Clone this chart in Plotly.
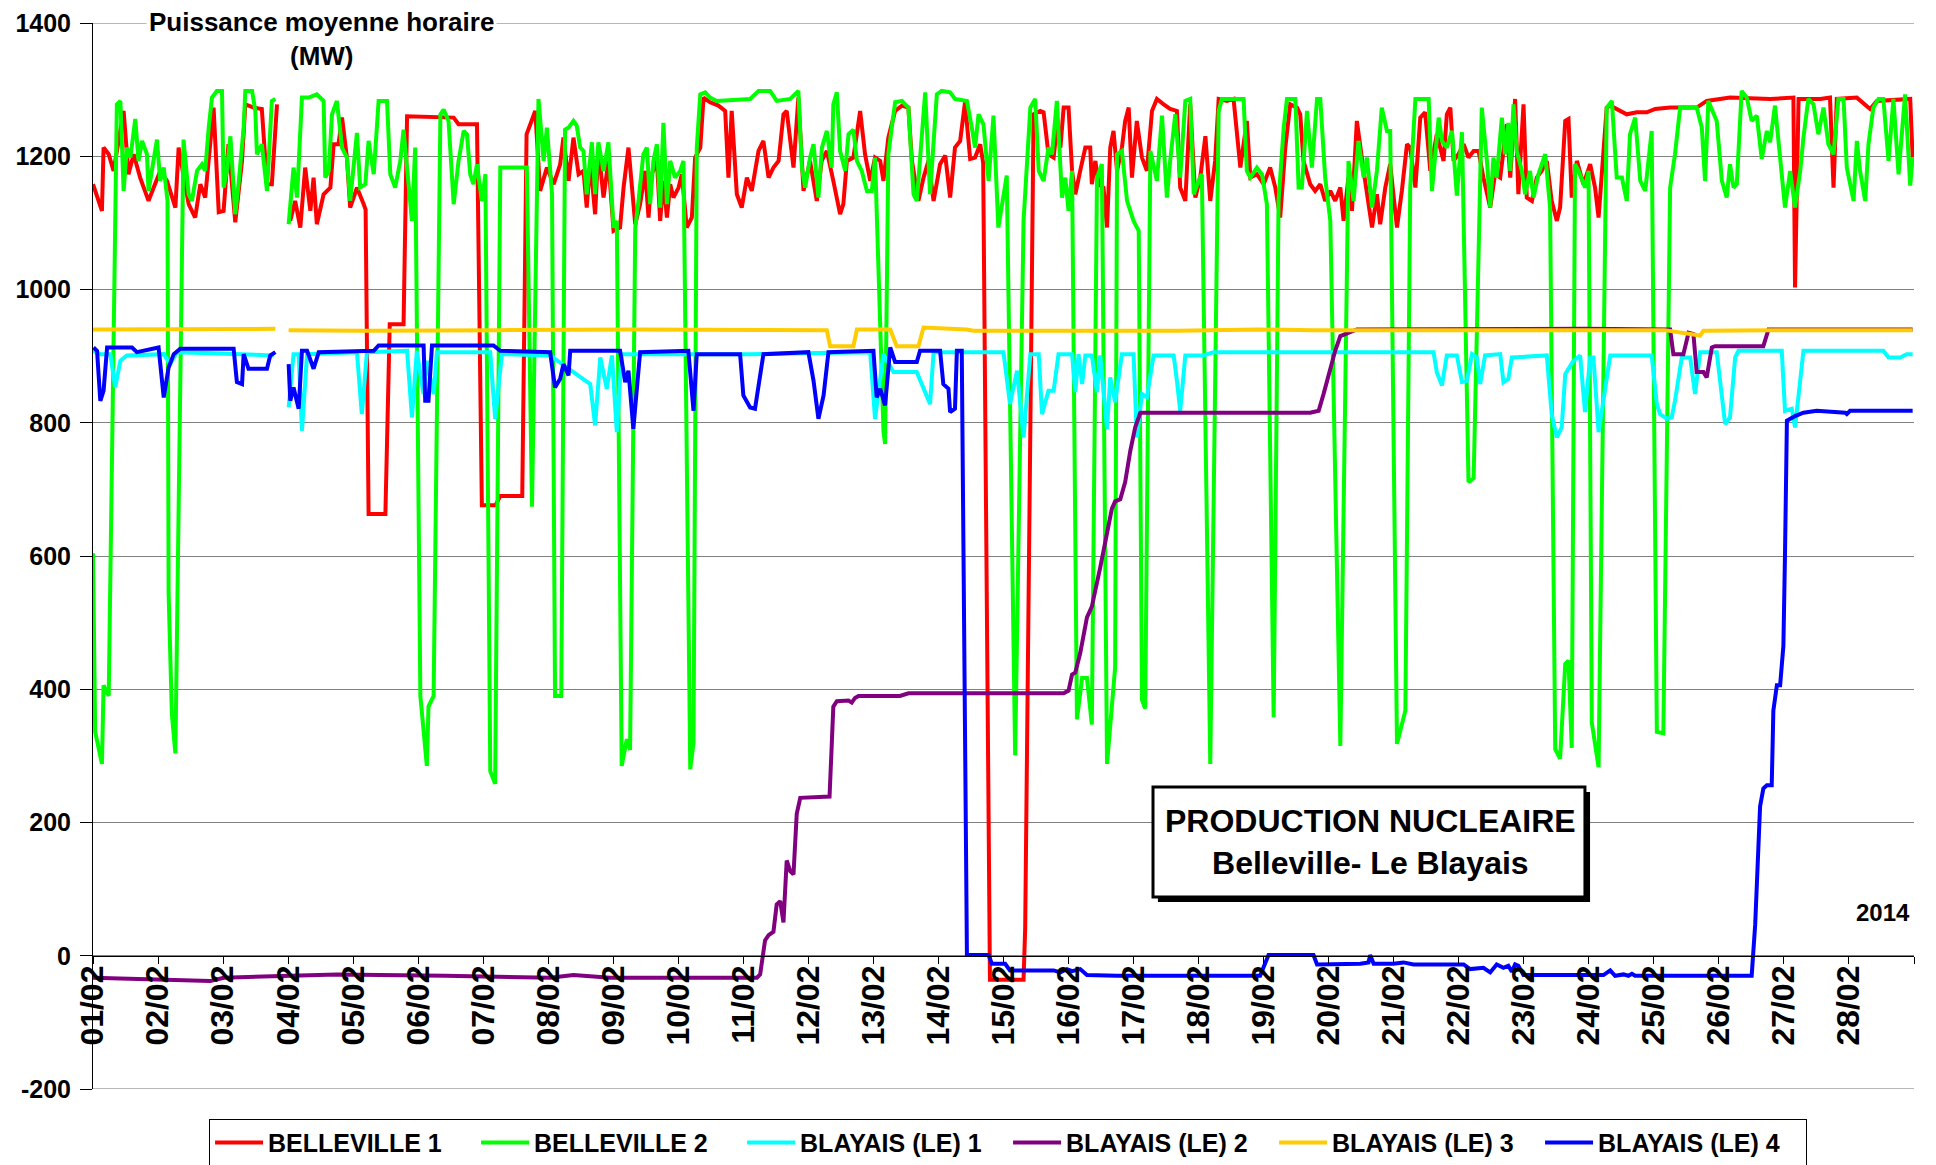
import pandas as pd
import plotly.graph_objects as go

# Puissance moyenne horaire (MW), fevrier 2014.
# Chaque serie : (heure depuis le 01/02 00h, MW) ; None = trou dans les donnees
T0 = pd.Timestamp("2014-02-01")

BELLEVILLE_1 = [
    (0, 1158), (3.3, 1118), (3.9, 1213), (5.8, 1203), (7.6, 1178), (11.3, 1268), (13.1, 1173), (15, 1203),
    (17.4, 1168), (20.5, 1133), (22.4, 1153), (24.8, 1178), (27.3, 1163), (30.4, 1123), (31.6, 1213),
    (33.4, 1173), (35.3, 1128), (37.7, 1108), (39.6, 1158), (41.4, 1138), (44.5, 1273), (46.4, 1116),
    (48.2, 1118), (50, 1218), (52.5, 1101), (55, 1193), (56.2, 1278), (59.3, 1273), (62.3, 1271),
    (64.2, 1158), (66, 1158), (67.9, 1278), (70, None),
    (72.8, 1103), (74.6, 1133), (76.5, 1093), (78.3, 1183), (80.2, 1118), (81.4, 1168), (82.6, 1098),
    (85.1, 1143), (87.6, 1153), (88.8, 1218), (90.6, 1218), (91.9, 1258), (93.7, 1198), (94.9, 1123),
    (96.2, 1138), (97.4, 1153), (99.9, 1128), (100.6, 1120), (101.7, 663), (107.9, 663), (109.5, 948),
    (114.6, 948), (115.9, 1260), (133.1, 1258), (134.9, 1248), (141.7, 1248), (143.5, 676), (148.5, 676),
    (150.3, 690), (158.4, 690), (160, 1233), (163.2, 1268), (165, 1148), (167.5, 1183), (170, 1158),
    (172.4, 1188), (173.6, 1228), (175.5, 1163), (177.3, 1228), (179.2, 1173), (181, 1178), (182.2, 1123),
    (183.5, 1193), (185.3, 1113), (186.5, 1213), (188.4, 1138), (190.2, 1193), (192.1, 1088), (194.5, 1093),
    (195.8, 1153), (197.6, 1213), (198.8, 1153), (200.1, 1098), (201.9, 1128), (203.8, 1178), (205, 1108),
    (206.2, 1173), (208.1, 1193), (209.3, 1103), (210.5, 1163), (211.8, 1108), (213, 1158), (214.2, 1138),
    (216.1, 1153), (217.3, 1173), (219.1, 1093), (221, 1108), (222.2, 1198), (224.1, 1213), (225.3, 1288),
    (227.7, 1281), (230.8, 1276), (233.3, 1268), (234.5, 1168), (235.7, 1268), (237.6, 1143), (239.4, 1123),
    (241.3, 1168), (243.1, 1148), (245.6, 1208), (247.4, 1223), (249.3, 1168), (251.1, 1183), (253, 1193),
    (254.8, 1263), (256, 1268), (258.5, 1183), (260.3, 1288), (262.2, 1148), (264.6, 1193), (267.1, 1133),
    (268.9, 1193), (270.8, 1208), (273.2, 1163), (275.7, 1113), (276.9, 1128), (278.2, 1193), (280.6, 1198),
    (283.1, 1268), (284.9, 1203), (286.8, 1163), (288.6, 1198), (290.5, 1193), (291.7, 1163), (293.5, 1228),
    (296, 1268), (298.5, 1276), (300.9, 1273), (302.2, 1193), (304.6, 1133), (306.5, 1168), (308.3, 1193),
    (310.2, 1133), (312.6, 1188), (314.5, 1201), (316.3, 1138), (318.1, 1213), (320, 1223), (321.8, 1281),
    (323.7, 1196), (325.5, 1198), (327.4, 1218), (328.5, 1190), (331, -36), (343.4, -36), (344, 41),
    (347.1, 1263), (349.6, 1268), (350.8, 1266), (352.6, 1203), (354.5, 1198), (355.7, 1243), (357, 1213),
    (358.2, 1273), (360, 1273), (361.3, 1178), (362.5, 1143), (364.3, 1178), (366.2, 1213), (368, 1213),
    (368.6, 1158), (369.9, 1193), (371.1, 1158), (372.9, 1153), (374.2, 1093), (375.4, 1213), (376.6, 1238),
    (377.9, 1178), (379.7, 1213), (380.9, 1253), (382.2, 1273), (383.4, 1168), (385.2, 1253), (387.1, 1198),
    (388.9, 1178), (390.8, 1268), (392.6, 1286), (395.1, 1278), (397.5, 1271), (400, 1268), (401.2, 1153),
    (403.1, 1133), (404.9, 1278), (406.8, 1138), (408.6, 1168), (410.5, 1230), (412.3, 1133), (414.1, 1193),
    (415.4, 1286), (418.5, 1283), (420.9, 1286), (423.4, 1183), (425.8, 1253), (427.1, 1168), (429.5, 1173),
    (432, 1158), (434.4, 1183), (436.3, 1153), (438.1, 1108), (440, 1213), (441.8, 1278), (444.3, 1273),
    (445.5, 1263), (446.7, 1193), (449.2, 1158), (451, 1148), (452.9, 1158), (454.7, 1133), (456.6, 1148),
    (458.4, 1133), (460.3, 1153), (461.5, 1103), (463.3, 1168), (464.6, 1118), (466.4, 1253), (468.9, 1178),
    (470.1, 1143), (472, 1093), (473.8, 1143), (475, 1098), (476.9, 1153), (478.7, 1188), (481.2, 1093),
    (483, 1148), (484.9, 1218), (486.1, 1213), (488, 1153), (489.8, 1258), (491.6, 1266), (493.5, 1178),
    (495.9, 1233), (498.4, 1193), (499.6, 1263), (500.9, 1273), (502.1, 1193), (503.9, 1203), (505.8, 1218),
    (507.6, 1198), (509.5, 1208), (511.3, 1208), (513.1, 1168), (515.6, 1123), (517.4, 1173), (519.3, 1168),
    (521.7, 1248), (523, 1168), (524.8, 1286), (526, 1143), (527.9, 1278), (529.1, 1138), (531, 1133),
    (532.8, 1168), (534.6, 1178), (536.5, 1193), (538.3, 1133), (540.2, 1103), (541.4, 1123), (543.3, 1253),
    (544.5, 1256), (545.7, 1138), (547.6, 1193), (550, 1158), (552.5, 1188), (554.3, 1153), (555.6, 1108),
    (556.8, 1183), (558.6, 1273), (559.9, 1276), (562.3, 1271), (566, 1263), (569.7, 1266), (573.4, 1266),
    (576.5, 1271), (582, 1273), (591.8, 1273), (595.5, 1283), (604.1, 1288), (618.9, 1286), (627.5, 1288),
    (628.1, 1003), (629.4, 1286), (637.4, 1286), (641, 1288), (642.3, 1153), (643.5, 1286), (650.9, 1288),
    (655.8, 1271), (658.3, 1283), (670.6, 1286), (671.5, 1198),
]

BELLEVILLE_2 = [
    (0, 604), (0.8, 336), (3.3, 288), (3.9, 406), (5.8, 390), (8.8, 1278), (10.1, 1283), (11.3, 1148),
    (12.5, 1213), (13.8, 1198), (15.6, 1256), (16.8, 1193), (18.1, 1223), (19.9, 1203), (20.5, 1148),
    (21.8, 1178), (23.6, 1225), (24.8, 1163), (26.1, 1183), (27.5, 1133), (27.9, 545), (29.1, 363),
    (30.4, 304), (33.4, 1225), (35.3, 1143), (36.5, 1133), (38.4, 1178), (40.2, 1188), (41.4, 1178),
    (42.7, 1243), (43.9, 1288), (45.7, 1298), (47.6, 1298), (48.2, 1153), (49.4, 1178), (50.7, 1230),
    (52.5, 1113), (53.7, 1158), (55.6, 1243), (56.2, 1298), (58.7, 1298), (59.9, 1268), (60.5, 1203),
    (62.3, 1218), (64.2, 1148), (66, 1283), (67.3, 1286), (70, None),
    (72.2, 1098), (74, 1183), (75.3, 1138), (77.1, 1288), (79.6, 1288), (82.6, 1293), (85.1, 1283),
    (85.7, 1168), (87, 1178), (88.2, 1263), (90, 1283), (91.9, 1213), (93.7, 1198), (94.9, 1133),
    (97.4, 1235), (98.6, 1153), (100.5, 1158), (101.7, 1223), (103.6, 1173), (105.4, 1283), (108.5, 1283),
    (109.7, 1173), (111.5, 1153), (113.4, 1193), (114.6, 1240), (117.7, 1103), (118.9, 1213), (120.8, 390),
    (123.2, 285), (123.8, 374), (125.7, 390), (128.2, 1263), (129.4, 1270), (131.2, 1253), (133.1, 1128),
    (134.9, 1193), (136.8, 1238), (138, 1233), (139.2, 1173), (140.4, 1158), (141.7, 1188), (143.5, 1133),
    (144.8, 1173), (146.6, 277), (148.4, 258), (150.3, 1183), (160.1, 1183), (162, 674), (164.4, 1286),
    (166.3, 1193), (167.5, 1243), (169.4, 1143), (170.5, 390), (172.8, 390), (174.2, 1240), (175.5, 1243),
    (177.3, 1253), (178.5, 1246), (179.8, 1213), (181, 1208), (182.2, 1143), (184.1, 1221), (185.3, 1143),
    (186.5, 1221), (188.4, 1178), (190.2, 1221), (192.1, 1093), (193.3, 1103), (195.1, 285), (197, 325),
    (198.2, 309), (200.1, 1093), (201.3, 1133), (203.1, 1203), (204.4, 1213), (205.6, 1128), (206.8, 1193),
    (208.1, 1218), (209.3, 1123), (210.5, 1250), (211.8, 1128), (213, 1193), (214.8, 1168), (216.7, 1178),
    (217.9, 1193), (220.4, 280), (221.6, 320), (222.8, 1213), (224.1, 1293), (225.9, 1296), (227.7, 1288),
    (230.2, 1283), (242.5, 1286), (245.6, 1298), (249.9, 1298), (252.3, 1283), (257.3, 1286), (260.3, 1298),
    (261.6, 1183), (262.8, 1153), (264.6, 1198), (265.9, 1218), (267.7, 1138), (269, 1213), (270.8, 1238),
    (272.6, 1183), (273.2, 1278), (274.5, 1296), (275.7, 1208), (277.6, 1178), (278.8, 1233), (280.6, 1240),
    (281.9, 1193), (283.7, 1178), (285.6, 1148), (287.4, 1148), (288.6, 1198), (291.7, 788), (292.3, 768),
    (293.5, 1203), (296, 1281), (298.5, 1283), (300.9, 1273), (302.8, 1143), (304, 1133), (305.8, 1218),
    (307.1, 1296), (308.9, 1143), (311.4, 1293), (313.2, 1298), (316.3, 1296), (318.1, 1286), (322.5, 1283),
    (324.3, 1243), (325.5, 1213), (326.8, 1263), (328.6, 1248), (330.5, 1163), (332.3, 1261), (334.1, 1093),
    (337.2, 1171), (340.3, 301), (343.4, 1103), (345.9, 1273), (347.7, 1286), (349, 1178), (350.8, 1163),
    (352.6, 1213), (353.9, 1203), (355.7, 1283), (357.6, 1138), (358.8, 1168), (360, 1118), (361.3, 1178),
    (363.1, 355), (365, 417), (366.8, 417), (368.6, 347), (370.5, 1168), (372.3, 1188), (374.2, 288),
    (377.2, 433), (377.9, 1203), (379.7, 1208), (381.6, 1133), (384, 1103), (385.9, 1088), (387.1, 384),
    (388.3, 371), (390.2, 1208), (392.6, 1163), (394.5, 1261), (396.3, 1138), (397.5, 1193), (399.4, 1263),
    (401.2, 1168), (403.1, 1283), (404.9, 1286), (406.2, 1143), (408, 1163), (409.2, 1173), (412.3, 288),
    (415.4, 1268), (416.6, 1286), (424.6, 1286), (425.8, 1178), (427.1, 1168), (429.5, 1183), (431.4, 1173),
    (433.2, 1128), (435.7, 358), (437.5, 1133), (439.4, 1243), (440.6, 1286), (443.7, 1286), (444.9, 1153),
    (446.1, 1153), (448, 1268), (449.8, 1183), (451.7, 1286), (452.9, 1286), (454.7, 1168), (456.6, 1103),
    (460.3, 315), (463.3, 1193), (465.2, 1133), (467, 1223), (468.9, 1168), (470.1, 1198), (472, 1123),
    (473.8, 1178), (475.6, 1273), (477.5, 1238), (478.7, 1238), (481.2, 318), (484.3, 368), (486.1, 1153),
    (488, 1286), (492.9, 1286), (494.1, 1148), (496.6, 1258), (497.8, 1223), (499.6, 1213), (501.5, 1238),
    (503.3, 1141), (505.2, 1236), (507.6, 711), (509.5, 717), (512.5, 1273), (514.4, 1193), (515.6, 1123),
    (516.8, 1198), (518, 1168), (519.9, 1258), (521.1, 1203), (522.3, 1250), (523, 1178), (524.2, 1278),
    (525.4, 1208), (527.3, 1178), (528.5, 1143), (530.3, 1178), (531.6, 1138), (533.4, 1173), (535.9, 1203),
    (537.7, 1123), (539.6, 310), (541.4, 296), (543.3, 438), (544.5, 443), (545.7, 312), (546.9, 1188),
    (548.2, 1178), (550.6, 1153), (551.9, 1178), (553.1, 350), (555.6, 283), (558.6, 1273), (560.5, 1283),
    (562.3, 1168), (564.2, 1168), (566, 1133), (567.2, 1233), (569.1, 1258), (571, 1163), (572.8, 1148),
    (575.2, 1238), (577.1, 336), (579.5, 334), (582, 1153), (583.8, 1203), (585.7, 1273), (591.8, 1273),
    (593.7, 1243), (594.9, 1163), (596.1, 1283), (598, 1263), (599.2, 1253), (601.1, 1163), (602.9, 1138),
    (604.1, 1188), (605.4, 1153), (606.6, 1158), (608.4, 1298), (610.3, 1288), (612.1, 1253), (614, 1261),
    (615.8, 1196), (617.7, 1238), (618.9, 1221), (620.7, 1276), (622.6, 1193), (624.4, 1123), (626.3, 1178),
    (628.1, 1123), (630, 1178), (631.2, 1228), (633, 1286), (634.9, 1278), (636.7, 1233), (638.6, 1273),
    (640.4, 1218), (642.3, 1203), (644.1, 1286), (646, 1286), (647.2, 1183), (649.7, 1133), (650.9, 1223),
    (652.1, 1178), (654, 1133), (655.2, 1218), (657, 1273), (658.9, 1286), (660.7, 1286), (662.6, 1193),
    (664.4, 1286), (666.3, 1173), (668.7, 1293), (670.6, 1156), (671.5, 1198),
]

BLAYAIS_1 = [
    (0, 908), (2.7, 903), (6.4, 903), (8.2, 853), (10.1, 893), (12.5, 901), (26.1, 903), (28.5, 888),
    (31, 906), (66.7, 901), (70, None), (72.2, 823), (74, 903), (75.9, 903), (77.1, 788), (79, 903),
    (97.4, 906), (99.2, 813), (101.1, 906), (115.9, 908), (117.7, 808), (119.5, 908), (122, 843),
    (123.2, 893), (125.7, 843), (126.9, 906), (146.6, 906), (148.4, 806), (150.9, 903), (168.7, 901),
    (183.5, 858), (185.3, 796), (187.2, 898), (189.6, 851), (191.5, 901), (193.3, 786), (195.1, 903),
    (242.5, 903), (286.8, 906), (288.6, 806), (289.9, 843), (291.7, 903), (295.4, 876), (304, 876),
    (308.9, 828), (310.2, 906), (336, 906), (338.4, 828), (341, 878), (343.4, 778), (345.9, 903), (349, 903),
    (350.2, 813), (352.6, 848), (354.5, 848), (356.3, 903), (361.3, 903), (362.5, 846), (363.7, 903),
    (365, 858), (366.2, 901), (368.6, 901), (370.5, 846), (371.7, 901), (374.2, 791), (375.4, 868),
    (377.2, 831), (379.7, 903), (384, 903), (385.2, 778), (387.1, 843), (388.9, 838), (391.4, 901),
    (398.8, 901), (400, 863), (401.2, 818), (403.1, 901), (409.8, 901), (413.5, 906), (494.7, 906),
    (495.9, 876), (497.8, 856), (499.6, 901), (503.3, 901), (505.2, 861), (507, 863), (508.9, 903),
    (510.7, 898), (511.9, 858), (513.7, 901), (519.3, 903), (520.5, 861), (522.3, 866), (523.6, 898),
    (536.5, 901), (538.3, 813), (540.2, 778), (542, 793), (543.3, 873), (546.3, 893), (548.8, 901),
    (550.6, 816), (552.5, 898), (553.7, 898), (555.6, 786), (557.4, 831), (559.9, 901), (575.2, 901),
    (577.1, 828), (578.3, 813), (580.8, 806), (582.6, 808), (583.8, 833), (586.3, 898), (589.4, 898),
    (591.2, 843), (593.1, 906), (599.2, 906), (602.3, 798), (604.1, 808), (606, 898), (607.2, 908),
    (623.2, 908), (624.4, 818), (626.9, 821), (628.1, 793), (631.2, 908), (660.7, 908), (662.6, 898),
    (666.9, 898), (669.3, 903), (671.5, 903),
]

BLAYAIS_2 = [
    (0, -33), (20, -35), (37.1, -38), (43.3, -38), (48.2, -33), (90, -28), (130, -30), (168.7, -33),
    (177.3, -29), (187.2, -31), (190.8, -33), (245, -33), (246.2, -28), (248, 23), (249.3, 31), (251.1, 36),
    (252.3, 77), (253.6, 82), (254.8, 50), (256, 143), (257.3, 127), (258.5, 122), (259.7, 213), (261, 237),
    (271.8, 239), (272.6, 315), (273.2, 374), (274.5, 382), (278.8, 383), (280, 380), (281.2, 387),
    (282.5, 390), (297.8, 390), (300.9, 394), (358.2, 394), (360, 398), (361.3, 422), (362.5, 425),
    (364.3, 454), (366.8, 508), (368.6, 524), (371.7, 583), (374.2, 631), (376, 671), (377.2, 682),
    (379.1, 685), (380.9, 711), (382.8, 758), (384.6, 793), (386.5, 815), (449.2, 815), (452.3, 818),
    (454.1, 843), (456.6, 883), (458.4, 908), (460.3, 930), (466.4, 940), (550, 941), (582, 940),
    (583.2, 903), (586.9, 903), (588.8, 935), (590.6, 933), (591.8, 876), (594.3, 876), (595.5, 868),
    (597.4, 913), (598.6, 915), (616.4, 915), (618.3, 940), (671.5, 940),
]

BLAYAIS_3 = [
    (0, 940), (30, 941), (67.3, 941), (70, None), (72.2, 939), (100, 938), (150, 939), (200, 940),
    (270.8, 939), (272, 915), (280.6, 915), (281.9, 940), (294.2, 940), (296.6, 915), (304.6, 915),
    (306.5, 943), (322.5, 940), (324.9, 938), (400, 938), (430, 940), (450, 939), (500, 939), (580, 939),
    (593.1, 931), (594.3, 938), (620, 939), (671.5, 939),
]

BLAYAIS_4 = [
    (0.2, 913), (1.5, 908), (2.7, 833), (3.9, 848), (5.2, 913), (14.4, 913), (16.2, 906), (21.1, 911),
    (24.2, 913), (26.1, 838), (27.9, 883), (29.8, 903), (32.2, 911), (51.9, 911), (53.1, 861), (55, 858),
    (55.6, 903), (57.4, 881), (64.2, 881), (65.4, 901), (67.3, 906), (70, None), (72.2, 888), (72.8, 833),
    (74, 853), (75.9, 821), (77.1, 908), (79, 908), (81.4, 881), (83.3, 906), (103.6, 908), (105.4, 916),
    (122, 916), (122.6, 833), (123.8, 833), (125.1, 916), (147.8, 916), (150.3, 908), (168.7, 906),
    (170.5, 853), (172.4, 866), (173.6, 888), (175.5, 871), (176.1, 908), (194.5, 908), (196.4, 861),
    (197.6, 878), (199.4, 791), (201.9, 906), (219.7, 908), (221.6, 818), (222.8, 903), (238.8, 903),
    (240, 841), (242.5, 823), (244.3, 821), (247.4, 903), (264, 906), (265.9, 863), (267.7, 806),
    (269.6, 841), (271.4, 906), (288, 908), (289.2, 838), (290.5, 851), (292.3, 826), (294.2, 913),
    (296, 891), (304, 891), (305.2, 908), (312.6, 908), (313.8, 858), (315.7, 851), (316.3, 816),
    (318.1, 821), (318.8, 908), (320.6, 908), (322.5, 1), (330.5, 1), (331.7, -12), (336.6, -12),
    (338.4, -22), (354.5, -22), (357, -25), (359.4, -20), (361.3, -23), (364.3, -20), (366.8, -29),
    (377.9, -30), (430.7, -30), (433.8, 1), (450.4, 1), (451.7, -13), (467.7, -12), (470.7, -10),
    (471.3, 1), (472.6, -12), (479.9, -12), (483.6, -10), (487.3, -13), (505.8, -13), (508.2, -20),
    (513.1, -18), (515.6, -25), (518, -13), (520.5, -18), (522.3, -15), (523.6, -24), (524.8, -13),
    (526, -15), (527.9, -29), (557.4, -29), (559.9, -22), (561.7, -30), (564.8, -28), (566.6, -30),
    (567.9, -27), (569.1, -30), (612.1, -30), (613.4, 47), (615.2, 224), (616.4, 251), (617.7, 256),
    (619.5, 256), (620.1, 368), (621.4, 406), (622.6, 406), (623.8, 465), (624.4, 604), (625.1, 803),
    (628.1, 810), (631.2, 815), (636.1, 818), (646.6, 815), (647.2, 813), (648.4, 818), (671.5, 818),
]

JOURS = ["01/02", "02/02", "03/02", "04/02", "05/02", "06/02", "07/02", "08/02", "09/02", "10/02",
         "11/02", "12/02", "13/02", "14/02", "15/02", "16/02", "17/02", "18/02", "19/02", "20/02",
         "21/02", "22/02", "23/02", "24/02", "25/02", "26/02", "27/02", "28/02"]

NIVEAUX_MW = [-200, 0, 200, 400, 600, 800, 1000, 1200, 1400]
LABELS_MW = ["-200", "0", "200", "400", "600", "800", "1000", "1200", "1400"]

SERIES = [
    ("BELLEVILLE 1", BELLEVILLE_1, "#FF0000"),
    ("BELLEVILLE 2", BELLEVILLE_2, "#00FF00"),
    ("BLAYAIS (LE) 1", BLAYAIS_1, "#00FFFF"),
    ("BLAYAIS (LE) 2", BLAYAIS_2, "#800080"),
    ("BLAYAIS (LE) 3", BLAYAIS_3, "#FFCC00"),
    ("BLAYAIS (LE) 4", BLAYAIS_4, "#0000FF"),
]

FONT = "Liberation Sans, Arial, sans-serif"

fig = go.Figure()
for nom, serie, couleur in SERIES:
    heures = [h for h, _ in serie]
    mw = [v for _, v in serie]
    fig.add_trace(go.Scatter(
        x=T0 + pd.to_timedelta(heures, unit="h"),
        y=mw,
        mode="lines",
        name=nom,
        line=dict(color=couleur, width=4),
        connectgaps=False,
    ))

jours_ticks = [T0 + pd.Timedelta(days=i) for i in range(len(JOURS))]

fig.update_layout(
    width=1936,
    height=1165,
    margin=dict(l=93, r=22, t=23, b=76, autoexpand=False),
    paper_bgcolor="white",
    plot_bgcolor="white",
    font=dict(family=FONT, color="black"),
    showlegend=True,
    legend=dict(
        orientation="h",
        x=0.5025, xanchor="center",
        y=-0.028, yanchor="top",
        bordercolor="black", borderwidth=1,
        bgcolor="white",
        font=dict(family=FONT, size=25, color="black", weight="bold"),
        itemwidth=48,
        entrywidth=203, entrywidthmode="pixels",
    ),
    xaxis=dict(
        type="date",
        range=[T0, T0 + pd.Timedelta(days=28)],
        anchor="free",
        position=0.125,
        showgrid=False,
        showline=True, linecolor="black", linewidth=1,
        tickvals=jours_ticks, ticktext=JOURS,
        ticks="outside", ticklen=7, tickcolor="black",
        tickangle=-90,
        ticklabelstandoff=-11,
        tickfont=dict(family=FONT, size=32, color="black", weight="bold"),
        minor=dict(ticks="outside", ticklen=7, tickcolor="black",
                   dtick=86400000, tick0=T0, showgrid=False),
    ),
    yaxis=dict(
        range=[-200, 1400],
        tickvals=NIVEAUX_MW, ticktext=LABELS_MW,
        showgrid=True, gridcolor="#808080", gridwidth=1,
        zeroline=False,
        showline=True, linecolor="black", linewidth=1,
        ticks="outside", ticklen=12, tickcolor="black",
        ticklabelstandoff=4,
        tickfont=dict(family=FONT, size=25, color="black", weight="bold"),
    ),
)

# lignes de grille aux bords (1400 en haut, -200 en bas)
for niveau in (1400, -200):
    fig.add_shape(type="line", xref="paper", yref="y", x0=0, x1=1, y0=niveau, y1=niveau,
                  line=dict(color="#707070", width=1), layer="below")

# cadre "PRODUCTION NUCLEAIRE" avec ombre
fig.add_shape(type="rect", xref="paper", yref="paper", x0=0.5848, x1=0.8221, y0=0.1754, y1=0.2786,
              fillcolor="black", line=dict(width=0), layer="above")
fig.add_shape(type="rect", xref="paper", yref="paper", x0=0.5821, x1=0.8193, y0=0.1801, y1=0.2833,
              fillcolor="white", line=dict(color="black", width=3), layer="above")
fig.add_annotation(xref="paper", yref="paper", x=0.7017, y=0.232, xanchor="center", yanchor="middle",
                   showarrow=False, text="PRODUCTION NUCLEAIRE<br>Belleville- Le Blayais",
                   font=dict(family=FONT, size=32, color="black", weight="bold"))

fig.add_annotation(xref="paper", yref="paper", x=0.9989, y=0.166, xanchor="right", yanchor="middle",
                   showarrow=False, text="2014",
                   font=dict(family=FONT, size=24, color="black", weight="bold"))

# titre de l'axe, par-dessus la grille de 1400
fig.add_annotation(xref="paper", yref="paper", x=0.1255, y=1.0005, xanchor="center", yanchor="middle",
                   showarrow=False, text="Puissance moyenne horaire", bgcolor="white", borderpad=2,
                   font=dict(family=FONT, size=26, color="black", weight="bold"))
fig.add_annotation(xref="paper", yref="paper", x=0.1255, y=0.9695, xanchor="center", yanchor="middle",
                   showarrow=False, text="(MW)",
                   font=dict(family=FONT, size=26, color="black", weight="bold"))

fig.write_html("out.html", config={"displayModeBar": False},
               post_script="document.body.style.margin='0';")
